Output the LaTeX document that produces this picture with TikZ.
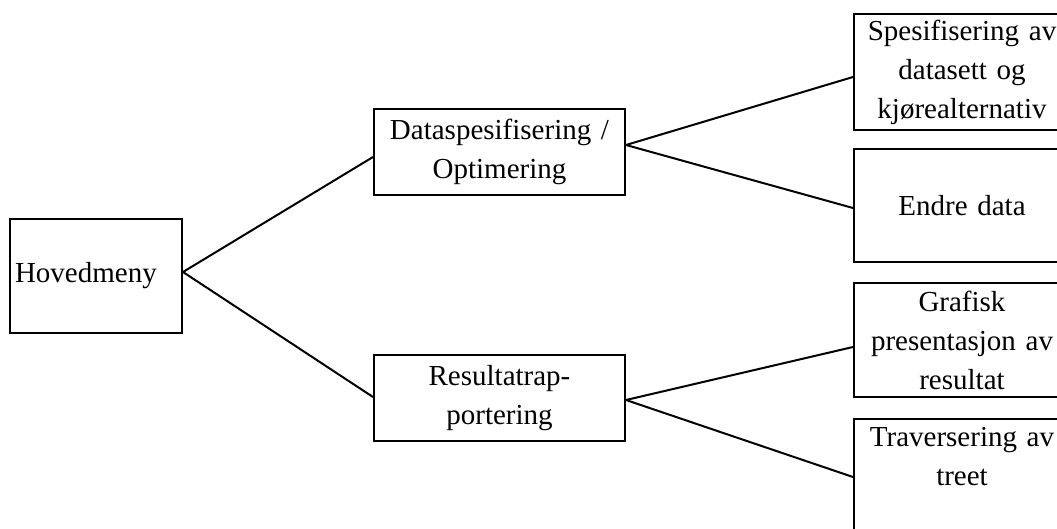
\documentclass[tikz,border=0pt]{standalone}
\usepackage{fontspec}
\setmainfont{Liberation Serif}
\begin{document}
\begin{tikzpicture}[x=1pt,y=-1pt,
  box/.style={draw=black, line width=2pt, fill=white, inner xsep=5pt, inner ysep=0pt,
    font=\fontsize{29}{39}\selectfont, align=center},
  conn/.style={draw=black, line width=2pt}]
\useasboundingbox (0,0) rectangle (1057,529);
\clip (0,0) rectangle (1057,529);
\node[box, minimum width=172pt, minimum height=114pt, text width=162pt, align=left] (hoved) at (96,276) {Hovedmeny};
\node[box, minimum width=251pt, minimum height=86pt, text width=241pt] (data) at (499.5,152) {Dataspesifisering /\\Optimering};
\node[box, minimum width=251pt, minimum height=86pt, text width=241pt] (res) at (499.5,398) {Resultatrap-\\portering};
\node[box, minimum width=216pt, minimum height=116pt, text width=206pt] (spes) at (962,72) {Spesifisering av\\datasett og\\kjørealternativ};
\node[box, minimum width=216pt, minimum height=113pt, text width=206pt] (endre) at (962,205.5) {Endre data};
\node[box, minimum width=216pt, minimum height=114pt, text width=206pt] (graf) at (962,340) {Grafisk\\presentasjon av\\resultat};
\node[box, minimum width=216pt, minimum height=114pt, text width=206pt] (trav) at (962,476) {Traversering av\\treet\\\mbox{}};
\draw[conn] ([yshift=4pt]hoved.east) -- ([yshift=-5pt]data.west);
\draw[conn] ([yshift=4pt]hoved.east) -- ([yshift=1pt]res.west);
\draw[conn] ([yshift=7pt]data.east) -- ([yshift=-5pt]spes.west);
\draw[conn] ([yshift=7pt]data.east) -- ([yshift=-2.5pt]endre.west);
\draw[conn] ([yshift=-2pt]res.east) -- ([yshift=-7pt]graf.west);
\draw[conn] ([yshift=-2pt]res.east) -- ([yshift=-1pt]trav.west);
\end{tikzpicture}
\end{document}
